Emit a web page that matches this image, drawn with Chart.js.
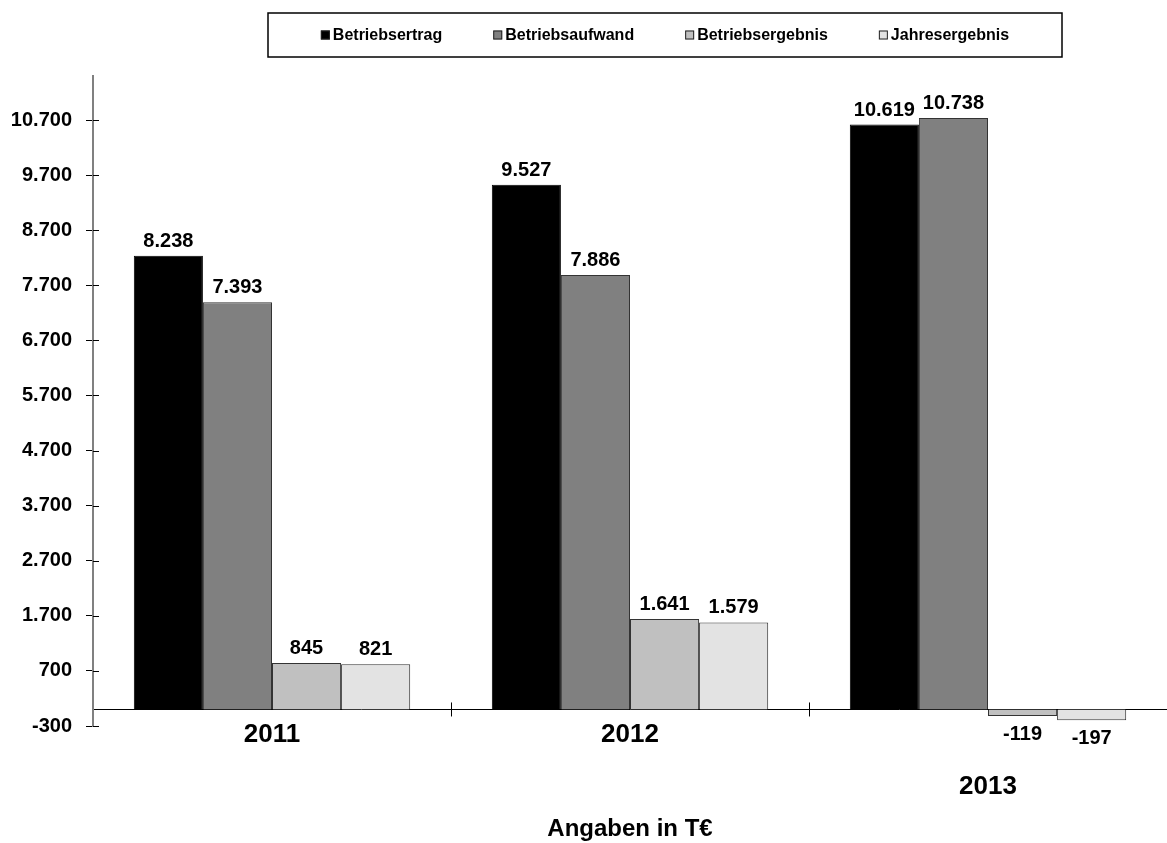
<!DOCTYPE html>
<html lang="de">
<head>
<meta charset="utf-8">
<title>Betriebsertrag und Ergebnisse 2011–2013</title>
<script src="https://cdn.jsdelivr.net/npm/chart.js@4/dist/chart.umd.min.js"></script>
<style>
  html, body { margin: 0; padding: 0; background: #fff; }
  #wrap { width: 1167px; height: 843px; position: relative; }
</style>
</head>
<body>
<div id="wrap"><canvas id="chart"></canvas></div>
<script>
const jahre = ["2011", "2012", "2013"];
const betriebsertrag = [8238, 9527, 10619];
const betriebsaufwand = [7393, 7886, 10738];
const betriebsergebnis = [845, 1641, -119];
const jahresergebnis = [821, 1579, -197];
const yTicks = [-300, 700, 1700, 2700, 3700, 4700, 5700, 6700, 7700, 8700, 9700, 10700];

const FONT = "'Liberation Sans', Arial, sans-serif";

function formatDE(v) {
  const s = Math.abs(v).toString().replace(/\B(?=(\d{3})+(?!\d))/g, ".");
  return (v < 0 ? "-" : "") + s;
}

// Legende mit Rahmen oben
const legendBox = {
  id: "legendBox",
  afterDraw(chart) {
    const ctx = chart.ctx;
    const box = { x: 268, y: 13, w: 794, h: 44 };
    ctx.save();
    ctx.strokeStyle = "#000";
    ctx.lineWidth = 1.5;
    ctx.strokeRect(box.x, box.y, box.w, box.h);

    ctx.font = "bold 16px " + FONT;
    const gap = 51, mark = 9, markGap = 3;
    const items = chart.data.datasets.map(ds => ({
      text: ds.label, fill: ds.backgroundColor, width: mark + markGap + ctx.measureText(ds.label).width
    }));
    const total = items.reduce((s, it) => s + it.width, 0) + gap * (items.length - 1);
    let x = box.x + box.w / 2 - total / 2;
    const cy = box.y + box.h / 2;
    items.forEach(it => {
      ctx.fillStyle = it.fill;
      ctx.fillRect(x, cy - mark / 2, mark, mark);
      ctx.strokeStyle = "#222";
      ctx.lineWidth = 1;
      ctx.strokeRect(x + 0.5, cy - mark / 2 + 0.5, mark - 1, mark - 1);
      ctx.fillStyle = "#000";
      ctx.textBaseline = "middle";
      ctx.textAlign = "left";
      ctx.fillText(it.text, x + mark + markGap, cy + 1);
      x += it.width + gap;
    });
    ctx.restore();
  }
};

// Werte an den Balken
const dataLabels = {
  id: "dataLabels",
  afterDatasetsDraw(chart) {
    const ctx = chart.ctx;
    ctx.save();
    ctx.font = "bold 20px " + FONT;
    ctx.fillStyle = "#000";
    ctx.textAlign = "center";
    chart.data.datasets.forEach((ds, i) => {
      chart.getDatasetMeta(i).data.forEach((bar, j) => {
        const v = ds.data[j];
        if (v >= 0) {
          ctx.textBaseline = "alphabetic";
          ctx.fillText(formatDE(v), bar.x, bar.y - 9);
        } else {
          ctx.textBaseline = "top";
          ctx.fillText(formatDE(v), bar.x, bar.y + 8);
        }
      });
    });
    ctx.restore();
  }
};

// Kleine Teilstriche, die die Achsen kreuzen
const tickStubs = {
  id: "tickStubs",
  afterDraw(chart) {
    const ctx = chart.ctx;
    const xs = chart.scales.x, ys = chart.scales.y;
    const area = chart.chartArea;
    ctx.save();
    ctx.strokeStyle = "#000";
    ctx.lineWidth = 1;
    ctx.beginPath();
    yTicks.forEach(v => {
      const py = Math.round(ys.getPixelForValue(v)) + 0.5;
      ctx.moveTo(area.left, py);
      ctx.lineTo(area.left + 6, py);
    });
    const y0 = ys.getPixelForValue(0);
    for (let i = 1; i < jahre.length; i++) {
      const px = Math.round((xs.getPixelForValue(i - 1) + xs.getPixelForValue(i)) / 2) + 0.5;
      ctx.moveTo(px, y0 - 7);
      ctx.lineTo(px, y0 + 7);
    }
    ctx.stroke();
    ctx.restore();
  }
};

const ctx = document.getElementById("chart");
new Chart(ctx, {
  type: "bar",
  data: {
    labels: jahre,
    datasets: [
      { label: "Betriebsertrag", data: betriebsertrag, backgroundColor: "#000000", borderColor: "#000000" },
      { label: "Betriebsaufwand", data: betriebsaufwand, backgroundColor: "#808080", borderColor: "#333333" },
      { label: "Betriebsergebnis", data: betriebsergebnis, backgroundColor: "#c0c0c0", borderColor: "#333333" },
      { label: "Jahresergebnis", data: jahresergebnis, backgroundColor: "#e3e3e3", borderColor: "#333333" }
    ]
  },
  options: {
    responsive: true,
    maintainAspectRatio: false,
    animation: false,
    datasets: { bar: { categoryPercentage: 0.772, barPercentage: 1.0, borderWidth: 1 } },
    layout: { padding: { top: 76, left: 0, right: 0, bottom: 0 } },
    plugins: {
      legend: { display: false },
      tooltip: { enabled: false },
      title: {
        display: true,
        position: "bottom",
        fullSize: false,
        align: "center",
        text: "Angaben in T€",
        color: "#000",
        font: { family: FONT, size: 24, weight: "bold", lineHeight: 1.0 },
        padding: { top: 91, bottom: 2 }
      }
    },
    scales: {
      x: {
        position: { y: 0 },
        grid: { display: false, drawTicks: false },
        border: { display: true, color: "#000", width: 1 },
        ticks: {
          color: "#000",
          padding: 12,
          maxRotation: 0,
          autoSkip: false,
          font: { family: FONT, size: 26, weight: "bold", lineHeight: 1.0 },
          callback(value, index) {
            const label = this.getLabelForValue(value);
            const negativ = [betriebsertrag, betriebsaufwand, betriebsergebnis, jahresergebnis]
              .some(arr => arr[index] < 0);
            return negativ ? ["", "", label] : label;
          }
        }
      },
      y: {
        min: -300,
        max: 11500,
        afterBuildTicks(scale) { scale.ticks = yTicks.map(v => ({ value: v })); },
        afterFit(scale) { scale.width = 93; },
        grid: { drawOnChartArea: false, drawTicks: true, tickLength: 7, color: "#000" },
        border: { display: true, color: "#808080", width: 2 },
        ticks: {
          color: "#000",
          padding: 14,
          font: { family: FONT, size: 20, weight: "bold" },
          callback: v => formatDE(v)
        }
      }
    }
  },
  plugins: [legendBox, dataLabels, tickStubs]
});
</script>
</body>
</html>
